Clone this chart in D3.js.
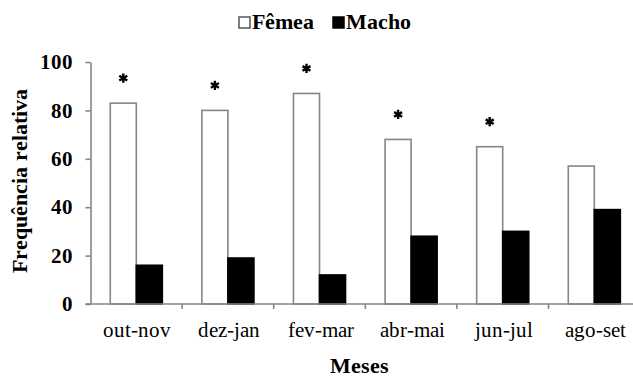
<!DOCTYPE html>
<html>
<head>
<meta charset="utf-8">
<script src="https://cdn.jsdelivr.net/npm/d3@7"></script>
<style>
  @font-face { font-family: "ChartSerif"; font-weight: 400; src: local("Liberation Serif"), local("LiberationSerif"), local("Liberation Serif Regular"); }
  @font-face { font-family: "ChartSerif"; font-weight: 700; src: local("Liberation Serif Bold"), local("LiberationSerif-Bold"); }
  html, body { margin: 0; padding: 0; background: #fff; }
  svg { display: block; }
  svg text { font-family: "ChartSerif", "Liberation Serif", Tinos, "Times New Roman"; }
</style>
</head>
<body>
<svg id="chart" width="633" height="378" font-family="Liberation Serif"></svg>
<script>
const categories = ["out-nov", "dez-jan", "fev-mar", "abr-mai", "jun-jul", "ago-set"];
const series = ["Fêmea", "Macho"];
const femea = [83, 80, 87, 68, 65, 57];
const macho = [16, 19, 12, 28, 30, 39];
const significant = [true, true, true, true, true, false];
const yTicks = [0, 20, 40, 60, 80, 100];

const svg = d3.select("#chart");
const W = 633, H = 378;
const mLeft = 90.5, mTop = 62, mBottom = 304;
const step = 91.6;

const x = d3.scaleBand().domain(categories).range([mLeft, mLeft + step * categories.length]).padding(0);
const xs = d3.scaleBand().domain(series).range([0, x.bandwidth()]).paddingInner(0).paddingOuter(0.76);
const y = d3.scaleLinear().domain([0, 100]).range([mBottom, mTop]);

const axisColor = "#868686";
const fills = { "Fêmea": "#ffffff", "Macho": "#000000" };

const rows = categories.map((c, i) => ({ cat: c, values: [
  { s: "Fêmea", v: femea[i] }, { s: "Macho", v: macho[i] }
], sig: significant[i], f: femea[i] }));

function serif(sel, size, bold) {
  sel.attr("font-family", "Liberation Serif")
     .style("font-family", '"ChartSerif", "Liberation Serif", Tinos, "Times New Roman"')
     .style("font-size", size + "px")
     .style("font-weight", bold ? "700" : "400")
     .attr("fill", "#000");
  return sel;
}

const g = svg.append("g");
g.selectAll("g.cat").data(rows).join("g")
  .attr("class", "cat")
  .attr("transform", d => `translate(${x(d.cat)},0)`)
  .selectAll("rect").data(d => d.values).join("rect")
  .attr("x", d => xs(d.s))
  .attr("y", d => y(d.v))
  .attr("width", xs.bandwidth())
  .attr("height", d => y(0) - y(d.v))
  .attr("fill", d => fills[d.s])
  .attr("stroke", d => d.s === "Fêmea" ? axisColor : "#000")
  .attr("stroke-width", 1.6);

const star = d3.symbol().type(d3.symbolAsterisk).size(60);
g.selectAll("path.star").data(rows.filter(d => d.sig)).join("path")
  .attr("class", "star")
  .attr("d", star)
  .attr("transform", d => `translate(${x(d.cat) + xs("Fêmea") + xs.bandwidth() / 2},${y(d.f) - 25})`)
  .attr("stroke", "#000").attr("stroke-width", 2.4).attr("fill", "none");

const yAxis = d3.axisLeft(y).tickValues(yTicks).tickSize(5).tickPadding(13).tickSizeOuter(0);
const ya = svg.append("g").attr("transform", `translate(${mLeft},0)`).call(yAxis)
  .attr("font-family", "Liberation Serif").attr("font-size", null);
ya.select(".domain").attr("stroke", axisColor).attr("stroke-width", 1.6);
ya.selectAll(".tick line").attr("stroke", axisColor).attr("stroke-width", 1.6);
serif(ya.selectAll(".tick text"), 21, true);

const boundaries = categories.map(c => x(c)).concat([x.range()[1]]);
const xa = svg.append("g").attr("transform", `translate(0,${mBottom})`);
xa.append("line").attr("x1", mLeft - 5).attr("x2", W).attr("y1", 0).attr("y2", 0)
  .attr("stroke", axisColor).attr("stroke-width", 1.6);
xa.selectAll("line.tk").data(boundaries.slice(1)).join("line")
  .attr("class", "tk")
  .attr("x1", d => d).attr("x2", d => d).attr("y1", 0).attr("y2", 5)
  .attr("stroke", axisColor).attr("stroke-width", 1.6);
serif(xa.selectAll("text").data(categories).join("text")
  .attr("x", d => x(d) + x.bandwidth() / 2 + 1)
  .attr("y", 33)
  .attr("text-anchor", "middle"), 21, false)
  .text(d => d);

serif(svg.append("text").attr("x", 359.5).attr("y", 373).attr("text-anchor", "middle"), 22, true).text("Meses");
serif(svg.append("text").attr("transform", "translate(27,181) rotate(-90)").attr("text-anchor", "middle"), 22, true)
  .text("Frequência relativa");

const legX = [239, 333];
const leg = svg.append("g");
series.forEach((s, i) => {
  leg.append("rect").attr("x", legX[i]).attr("y", 17).attr("width", 11).attr("height", 11)
    .attr("fill", fills[s]).attr("stroke", i === 0 ? "#555" : "#000").attr("stroke-width", 1.5);
  serif(leg.append("text").attr("x", legX[i] + 13).attr("y", 28.5), 22, true).text(s);
});
</script>
</body>
</html>
